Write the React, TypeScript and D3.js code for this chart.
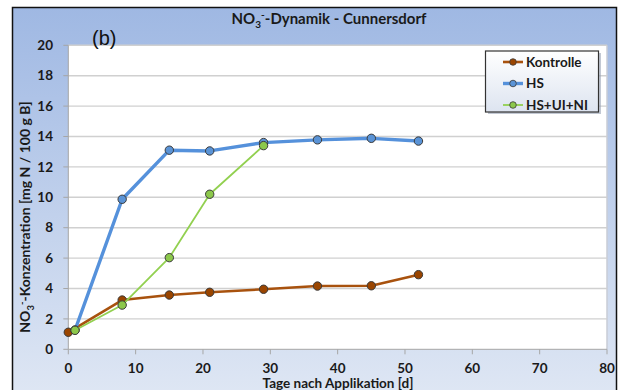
import React from "react";
import * as d3 from "d3";

const days = [0, 8, 15, 21, 29, 37, 45, 52];
const kontrolle = [1.12, 3.24, 3.57, 3.75, 3.95, 4.16, 4.18, 4.91];
const hsDays = [1, 8, 15, 21, 29, 37, 45, 52];
const hs = [1.27, 9.87, 13.1, 13.05, 13.6, 13.78, 13.88, 13.7];
const hsuiDays = [1, 8, 15, 21, 29];
const hsui = [1.25, 2.91, 6.03, 10.2, 13.4];
const xTicks = [0, 10, 20, 30, 40, 50, 60, 70, 80];
const yTicks = [0, 2, 4, 6, 8, 10, 12, 14, 16, 18, 20];
const seriesNames = ["Kontrolle", "HS", "HS+UI+NI"];

const W = 622, H = 390;
const FONT = "Lato, 'Open Sans', sans-serif";

export default function App() {
  const x = d3.scaleLinear().domain([0, 80]).range([68.3, 607]);
  const y = d3.scaleLinear().domain([0, 20]).range([349.3, 45.3]);
  const line = d3.line<[number, number]>().x(d => x(d[0])).y(d => y(d[1]));

  const series = [
    { name: seriesNames[0], xs: days, ys: kontrolle, color: "#a8520e", fill: "#9a4500", w: 2.6 },
    { name: seriesNames[1], xs: hsDays, ys: hs, color: "#5591db", fill: "#5a93d6", w: 3.4 },
    { name: seriesNames[2], xs: hsuiDays, ys: hsui, color: "#92d050", fill: "#8cc84b", w: 1.8 },
  ];

  return (
    <svg width={W} height={H} style={{ position: "absolute", left: 0, top: 0, fontFamily: FONT }}>
      <defs>
        <linearGradient id="bg" x1="0" y1="0" x2="0" y2="1">
          <stop offset="0" stopColor="#9fb8e3" />
          <stop offset="1" stopColor="#dfe7f4" />
        </linearGradient>
        <linearGradient id="lg" x1="0" y1="0" x2="0" y2="1">
          <stop offset="0" stopColor="#ffffff" />
          <stop offset="1" stopColor="#dde4f0" />
        </linearGradient>
      </defs>
      <rect x={0} y={0} width={W} height={H} fill="#ffffff" />
      <rect x={12.5} y={7.5} width={604} height={H} fill="url(#bg)" stroke="#111" strokeWidth={1.5} />
      {/* plot area */}
      <rect x={x(0)} y={y(20)} width={x(80) - x(0)} height={y(0) - y(20)} fill="#ffffff" />
      <line x1={x(80)} x2={x(80)} y1={y(20)} y2={y(0)} stroke="#c8cdd6" strokeWidth={1.5} />
      {yTicks.filter(t => t > 0).map(t => (
        <line key={"g" + t} x1={x(0)} x2={x(80)} y1={y(t)} y2={y(t)} stroke="#d0d0d0" strokeWidth={1.4} />
      ))}
      {/* axes */}
      <line x1={x(0)} x2={x(0)} y1={y(20)} y2={y(0)} stroke="#a6a6a6" strokeWidth={1} />
      <line x1={x(0)} x2={x(80)} y1={y(0)} y2={y(0)} stroke="#a6a6a6" strokeWidth={1} />
      {yTicks.map(t => (
        <g key={"y" + t}>
          <line x1={x(0) - 5} x2={x(0)} y1={y(t)} y2={y(t)} stroke="#a6a6a6" />
          <text x={53} y={y(t)} dy="0.35em" textAnchor="end" fontSize={13.5} fontWeight="bold" fill="#1a1a1a">{t}</text>
        </g>
      ))}
      {xTicks.map(t => (
        <g key={"x" + t}>
          <line x1={x(t)} x2={x(t)} y1={y(0)} y2={y(0) + 5} stroke="#a6a6a6" />
          <text x={x(t)} y={373} textAnchor="middle" fontSize={13.5} fontWeight="bold" fill="#1a1a1a">{t}</text>
        </g>
      ))}
      {/* series */}
      {series.map(s => {
        const pts: [number, number][] = s.xs.map((d, i) => [d, s.ys[i]]);
        return (
          <g key={s.name}>
            <path d={line(pts) || ""} fill="none" stroke={s.color} strokeWidth={s.w} strokeLinejoin="round" />
            {pts.map((p, i) => (
              <circle key={i} cx={x(p[0])} cy={y(p[1])} r={4.2} fill={s.fill} stroke="#3a3a3a" strokeWidth={1} />
            ))}
          </g>
        );
      })}
      {/* title */}
      <text x={329} y={24} textAnchor="middle" fontSize={15} fontWeight="bold" fill="#1a1a1a">
        NO<tspan fontSize={10} dy={4}>3</tspan><tspan fontSize={10} dy={-10}>-</tspan><tspan dy={6}>-Dynamik - Cunnersdorf</tspan>
      </text>
      <text x={92} y={45} fontSize={20} fill="#111" fontFamily="'Liberation Sans', Arial, sans-serif">(b)</text>
      {/* y label */}
      <text transform={`translate(30,${217}) rotate(-90)`} textAnchor="middle" fontSize={14} fontWeight="bold" fill="#1a1a1a">
        NO<tspan fontSize={9.5} dy={3.5}>3</tspan><tspan fontSize={9.5} dy={-9}>-</tspan><tspan dy={5.5}>-Konzentration [mg N / 100 g B]</tspan>
      </text>
      <text x={338} y={388} textAnchor="middle" fontSize={13.5} fontWeight="bold" fill="#1a1a1a">Tage nach Applikation [d]</text>
      {/* legend */}
      <rect x={488} y={53} width={113} height={61} fill="#9aa3b5" opacity={0.6} />
      <rect x={485.5} y={51} width={113} height={61} fill="url(#lg)" stroke="#333" strokeWidth={1.2} />
      {series.map((s, i) => (
        <g key={"l" + s.name} transform={`translate(0,${62 + i * 21.5})`}>
          <line x1={503} x2={523} y1={0} y2={0} stroke={s.color} strokeWidth={s.w} />
          <circle cx={513} cy={0} r={3.3} fill={s.fill} stroke="#3a3a3a" strokeWidth={0.8} />
          <text x={526} y={0} dy="0.35em" fontSize={13.5} fontWeight="bold" fill="#1a1a1a">{s.name}</text>
        </g>
      ))}
    </svg>
  );
}
